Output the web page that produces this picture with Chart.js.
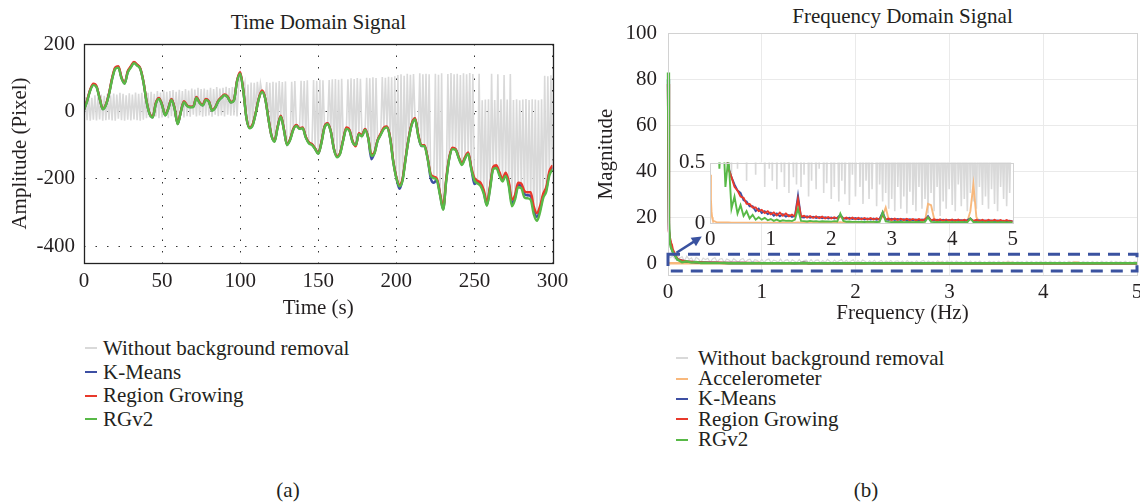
<!DOCTYPE html>
<html><head><meta charset="utf-8">
<script src="https://cdn.jsdelivr.net/npm/chart.js@4.4.1/dist/chart.umd.min.js"></script>
<style>
html,body{margin:0;padding:0;background:#fff;}
body{width:1140px;height:502px;position:relative;overflow:hidden;font-family:'Liberation Serif','Times New Roman',serif;color:#231f20;}
canvas{position:absolute;}
.ttl{position:absolute;font-size:21px;line-height:25px;white-space:nowrap;transform:translateX(-50%);}
.legend{position:absolute;font-size:21px;}
.legend div{display:flex;align-items:center;white-space:nowrap;}
.legend span.sw{display:inline-block;width:12px;height:2px;}
</style></head><body>
<div class="ttl" style="left:318.5px;top:9.5px">Time Domain Signal</div>
<div class="ttl" style="left:902.5px;top:3.5px">Frequency Domain Signal</div>
<canvas id="cA" width="580" height="330" style="left:0;top:0"></canvas>
<canvas id="cB" width="580" height="340" style="left:570px;top:0"></canvas>
<canvas id="cI" width="370" height="112" style="left:670px;top:145px"></canvas>
<div class="legend" id="legA" style="left:85px;top:336.5px"></div>
<div class="legend" id="legB" style="left:676px;top:348px"></div>
<div class="ttl" style="left:288px;top:477.5px">(a)</div>
<div class="ttl" style="left:866px;top:477.5px">(b)</div>
<script>
// ---------- Time domain data (seconds) ----------
const timeSec = [
0,2,4,6,8,10,12,14,16,18,
20,22,24,26,28,30,32,34,36,38,
40,42,44,46,48,50,52,54,56,58,
60,62,64,66,68,70,72,74,76,78,
80,82,84,86,88,90,92,94,96,98,
100,102,104,106,108,110,112,114,116,118,
120,122,124,126,128,130,132,134,136,138,
140,142,144,146,148,150,152,154,156,158,
160,162,164,166,168,170,172,174,176,178,
180,182,184,186,188,190,192,194,196,198,
200,202,204,206,208,210,212,214,216,218,
220,222,224,226,228,230,232,234,236,238,
240,242,244,246,248,250,252,254,256,258,
260,262,264,266,268,270,272,274,276,278,
280,282,284,286,288,290,292,294,296,298,
300];
const rgv2Time = [
4,30,62,78,72,38,6,18,50,95,
126,130,98,82,115,130,143,136,126,88,
30,-8,-18,22,37,18,-12,8,34,8,
-38,-2,27,16,12,13,40,25,17,34,
28,2,10,30,40,48,42,26,32,88,
112,60,-20,-50,-42,-5,38,58,38,-20,
-72,-90,-48,-16,-55,-100,-85,-55,-43,-52,
-50,-78,-95,-100,-112,-126,-95,-48,-38,-60,
-112,-136,-126,-86,-52,-58,-92,-100,-68,-74,
-55,-80,-132,-125,-88,-70,-52,-48,-80,-150,
-198,-222,-205,-140,-80,-38,-24,-72,-102,-104,
-140,-190,-198,-205,-250,-292,-205,-138,-112,-115,
-140,-159,-140,-126,-172,-205,-214,-222,-245,-280,
-232,-172,-168,-190,-208,-192,-222,-282,-262,-225,
-228,-255,-258,-262,-305,-325,-300,-258,-238,-190,
-172];
const regionGrowingTime = [
6,33,65,82,75,40,8,20,53,99,
130,134,101,84,119,134,147,139,128,90,
32,-6,-16,25,40,20,-10,10,37,10,
-36,0,30,18,14,15,43,27,19,37,
30,4,12,32,42,50,44,28,34,91,
116,63,-18,-48,-38,-3,40,62,40,-18,
-70,-88,-45,-13,-52,-98,-82,-52,-40,-50,
-48,-75,-92,-97,-110,-124,-92,-45,-35,-58,
-110,-133,-123,-83,-48,-55,-88,-104,-65,-70,
-52,-78,-128,-122,-85,-66,-48,-45,-77,-146,
-195,-218,-200,-136,-77,-34,-20,-68,-100,-100,
-137,-186,-194,-200,-244,-285,-198,-134,-108,-112,
-136,-154,-136,-122,-166,-198,-206,-212,-234,-270,
-222,-165,-160,-180,-200,-182,-208,-262,-248,-212,
-214,-236,-240,-240,-282,-302,-282,-245,-225,-178,
-160];
const kMeansTime = [
5,32,64,80,74,39,7,19,52,97,
128,132,100,83,117,132,145,138,127,89,
31,-7,-17,24,39,19,-11,9,36,9,
-37,-1,29,17,13,14,42,26,18,36,
29,3,11,31,41,49,43,27,33,90,
114,62,-19,-49,-40,-4,39,60,39,-19,
-71,-89,-46,-14,-53,-99,-83,-53,-41,-51,
-49,-76,-93,-98,-111,-125,-93,-46,-36,-59,
-111,-134,-124,-84,-50,-56,-90,-101,-66,-72,
-53,-79,-142,-123,-86,-68,-50,-46,-78,-148,
-197,-230,-202,-138,-78,-36,-22,-70,-103,-102,
-138,-198,-212,-203,-247,-290,-202,-136,-110,-113,
-138,-156,-138,-124,-169,-216,-210,-217,-240,-278,
-226,-168,-164,-185,-204,-187,-215,-272,-255,-218,
-221,-245,-249,-251,-293,-313,-291,-251,-231,-184,
-166];
const grayTimeSec = [
0,1,2,3,4,5,6,7,8,9,10,11,12,13,14,15,16,17,18,19,
20,21,22,23,24,25,26,27,28,29,30,31,32,33,34,35,36,37,38,39,
40,41,42,43,44,45,46,47,48,49,50,51,52,53,54,55,56,57,58,59,
60,61,62,63,64,65,66,67,68,69,70,71,72,73,74,75,76,77,78,79,
80,81,82,83,84,85,86,87,88,89,90,91,92,93,94,95,96,97,98,99,
100,101,102,103,104,105,106,107,108,109,110,111,112,113,114,115,116,117,118,119,
120,121,122,123,124,125,126,127,128,129,130,131,132,133,134,135,136,137,138,139,
140,141,142,143,144,145,146,147,148,149,150,151,152,153,154,155,156,157,158,159,
160,161,162,163,164,165,166,167,168,169,170,171,172,173,174,175,176,177,178,179,
180,181,182,183,184,185,186,187,188,189,190,191,192,193,194,195,196,197,198,199,
200,201,202,203,204,205,206,207,208,209,210,211,212,213,214,215,216,217,218,219,
220,221,222,223,224,225,226,227,228,229,230,231,232,233,234,235,236,237,238,239,
240,241,242,243,244,245,246,247,248,249,250,251,252,253,254,255,256,257,258,259,
260,261,262,263,264,265,266,267,268,269,270,271,272,273,274,275,276,277,278,279,
280,281,282,283,284,285,286,287,288,289,290,291,292,293,294,295,296,297,298,299,
300];
const withoutRemovalTime = [
-22,42,-26,45,-28,40,-25,48,-27,44,-24,50,-28,46,-26,52,-25,48,-27,53,
-28,50,-22,55,-26,52,-28,48,-25,54,-27,50,-24,56,-26,52,-28,55,-25,50,
-20,55,-18,58,-22,52,-15,60,-20,56,-18,62,-16,58,-20,60,-14,63,-18,58,
-15,64,-12,60,-18,66,-14,62,-16,68,-10,65,-15,70,-12,66,-16,68,-14,64,
-12,70,-16,66,-10,72,-14,68,-12,70,-15,73,-10,69,-13,72,-12,70,-15,74,
112,82,60,84,-20,80,-50,86,-42,85,-5,88,38,84,58,50,38,87,-20,85,
-72,88,-90,86,-48,90,-16,87,-55,89,-100,-93,-85,88,-55,90,-43,-48,-52,91,
-50,90,-78,92,-95,-98,-100,93,-112,91,-126,94,-95,92,-48,-43,-38,93,-60,95,
-112,96,-136,94,-126,97,-86,-69,-52,95,-58,98,-92,96,-100,99,-68,97,-74,-64,
-55,100,-80,98,-132,101,-125,99,-88,-79,-70,102,-52,100,-48,103,-80,101,-150,104,
-198,108,-222,110,-205,106,-140,112,-80,109,-38,111,-24,-48,-72,113,-102,110,-104,112,
-140,110,-190,-194,-198,112,-205,109,-250,113,-292,-250,-205,111,-138,114,-112,110,-115,112,
-140,108,-159,113,-140,110,-126,114,-172,111,-205,-210,-214,112,-222,33,-245,35,-280,36,
-232,112,-172,34,-168,110,-190,36,-208,108,-192,35,-222,111,-282,34,-262,36,-225,33,
-228,35,-255,37,-258,34,-262,36,-305,35,-325,33,-300,36,-258,106,-238,104,-190,107,
-172];
const timeTicks = {min: 0, max: 300, step: 50};
const ampTicks = {min: -450, max: 200, step: 200};

// ---------- Frequency domain data (Hz) ----------
const freq = [
0,0.01,0.02,0.03,0.04,0.05,
0.1,0.15,0.2,0.25,0.3,0.35,0.4,0.45,0.5,0.55,0.6,0.65,0.7,0.75,0.8,0.85,0.9,0.95,1,
1.05,1.1,1.15,1.2,1.25,1.3,1.35,1.4,1.45,1.5,
1.55,1.6,1.65,1.7,1.75,1.8,1.85,1.9,1.95,2,2.05,2.1,
2.15,2.2,
2.25,2.3,2.35,2.4,2.45,2.5,2.55,2.6,2.65,2.7,2.75,2.8,
2.85,2.9,
2.95,3,3.05,3.1,3.15,3.2,3.25,3.3,3.35,3.4,3.45,3.5,3.55,
3.6,3.65,
3.7,3.75,3.8,3.85,3.9,3.95,4,4.05,4.1,4.15,4.2,4.25,
4.3,4.35,
4.4,4.45,4.5,4.55,4.6,4.65,4.7,4.75,4.8,4.85,4.9,4.95,5];
const freqGray = [
0,0.025,0.05,0.075,0.1,0.125,0.15,0.175,0.2,0.225,0.25,0.275,0.3,0.325,0.35,0.375,0.4,0.425,0.45,0.475,
0.5,0.525,0.55,0.575,0.6,0.625,0.65,0.675,0.7,0.725,0.75,0.775,0.8,0.825,0.85,0.875,0.9,0.925,0.95,0.975,
1,1.025,1.05,1.075,1.1,1.125,1.15,1.175,1.2,1.225,1.25,1.275,1.3,1.325,1.35,1.375,1.4,1.425,1.45,1.475,
1.5,1.525,1.55,1.575,1.6,1.625,1.65,1.675,1.7,1.725,1.75,1.775,1.8,1.825,1.85,1.875,1.9,1.925,1.95,1.975,
2,2.025,2.05,2.075,2.1,2.125,2.15,2.175,2.2,2.225,2.25,2.275,2.3,2.325,2.35,2.375,2.4,2.425,2.45,2.475,
2.5,2.525,2.55,2.575,2.6,2.625,2.65,2.675,2.7,2.725,2.75,2.775,2.8,2.825,2.85,2.875,2.9,2.925,2.95,2.975,
3,3.025,3.05,3.075,3.1,3.125,3.15,3.175,3.2,3.225,3.25,3.275,3.3,3.325,3.35,3.375,3.4,3.425,3.45,3.475,
3.5,3.525,3.55,3.575,3.6,3.625,3.65,3.675,3.7,3.725,3.75,3.775,3.8,3.825,3.85,3.875,3.9,3.925,3.95,3.975,
4,4.025,4.05,4.075,4.1,4.125,4.15,4.175,4.2,4.225,4.25,4.275,4.3,4.325,4.35,4.375,4.4,4.425,4.45,4.475,
4.5,4.525,4.55,4.575,4.6,4.625,4.65,4.675,4.7,4.725,4.75,4.775,4.8,4.825,4.85,4.875,4.9,4.925,4.95,4.975,
5];
const withoutRemovalFreq = [
3.5,2.4,3.2,1.8,3.6,2.2,2.9,0.9,3.1,1.7,2.4,0.5,2.6,1.9,0.4,2.3,1.6,2.2,0.45,1.9,
2.5,0.6,1.8,2.1,0.35,1.9,1.4,0.55,2.0,1.2,0.4,1.7,2.1,0.5,1.5,1.8,0.3,1.6,1.3,0.45,
1.7,0.35,1.5,1.9,0.28,1.4,1.1,0.42,1.8,0.3,1.3,1.6,0.25,1.5,0.9,0.38,1.7,0.32,1.2,1.4,
0.3,1.6,0.4,1.3,1.5,0.22,1.2,0.35,1.7,0.9,0.28,1.4,0.45,1.1,1.6,0.25,1.3,0.33,1.0,1.5,
0.2,1.2,0.3,1.4,0.9,0.18,1.1,0.35,1.3,0.24,0.8,1.2,0.15,1.0,0.4,1.2,0.22,0.9,1.1,0.3,
1.0,0.16,1.2,0.35,0.8,0.2,1.1,0.28,0.9,1.2,0.14,1.0,0.32,0.8,0.18,1.1,0.25,0.9,0.12,1.0,
0.2,0.85,0.1,1.0,0.3,0.75,0.12,0.9,0.22,1.0,0.08,0.8,0.26,0.95,0.15,0.7,0.1,0.9,0.3,0.8,
0.12,0.9,0.2,0.7,0.08,1.0,0.25,0.8,0.1,0.85,0.3,0.7,0.06,0.9,0.18,0.8,0.12,0.75,0.28,0.9,
0.15,0.8,0.1,0.9,0.32,0.7,0.14,0.85,0.2,0.75,0.1,0.9,0.25,0.8,0.18,0.7,0.12,0.85,0.3,0.75,
0.15,0.8,0.22,0.7,0.12,0.9,0.28,0.75,0.16,0.85,0.1,0.8,0.3,0.7,0.2,0.85,0.14,0.75,0.25,0.8,
0.6];
const accelerometerFreq = [
0.4,0.2,0.1,0.05,0.03,0.02,
0.01,0.008,0.007,0.006,0.006,0.005,0.005,0.005,0.004,0.005,0.004,0.004,0.005,0.004,0.004,0.004,0.005,0.004,0.004,
0.004,0.005,0.004,0.004,0.005,0.004,0.004,0.005,0.006,0.004,
0.004,0.004,0.005,0.004,0.004,0.005,0.004,0.004,0.005,0.004,0.004,0.005,
0.008,0.005,
0.005,0.004,0.005,0.005,0.004,0.005,0.006,0.005,0.005,0.006,0.008,0.02,
0.06,0.13,
0.03,0.012,0.008,0.006,0.006,0.005,0.006,0.005,0.006,0.007,0.008,0.01,0.02,
0.16,0.15,
0.04,0.015,0.008,0.006,0.006,0.005,0.006,0.005,0.006,0.006,0.008,0.015,
0.1,0.32,
0.05,0.012,0.007,0.006,0.005,0.006,0.005,0.005,0.006,0.005,0.005,0.006,0.005];
const kMeansFreq = [
80,15,10,8.5,6.5,5,
1.7,1.15,0.7,0.6,0.46,0.38,0.32,0.27,0.25,0.19,0.18,0.14,0.14,0.1,0.12,0.085,0.1,0.075,0.088,
0.062,0.08,0.058,0.075,0.055,0.068,0.052,0.062,0.23,0.051,
0.048,0.057,0.045,0.054,0.043,0.052,0.041,0.05,0.04,0.048,0.039,0.046,
0.07,0.04,
0.037,0.045,0.035,0.043,0.033,0.042,0.032,0.04,0.031,0.039,0.03,0.038,
0.09,0.031,
0.029,0.037,0.028,0.035,0.027,0.034,0.026,0.033,0.025,0.032,0.024,0.031,0.025,
0.06,0.025,
0.023,0.03,0.022,0.029,0.021,0.028,0.02,0.027,0.021,0.026,0.019,0.026,
0.04,0.02,
0.019,0.025,0.018,0.024,0.017,0.023,0.016,0.023,0.017,0.022,0.016,0.021,0.015];
const regionGrowingFreq = [
78,14,11,9,8,6,
1.8,1.1,0.8,0.62,0.45,0.38,0.3,0.27,0.22,0.21,0.16,0.16,0.13,0.13,0.1,0.11,0.085,0.1,0.075,
0.09,0.065,0.088,0.062,0.08,0.058,0.072,0.056,0.2,0.054,
0.062,0.047,0.06,0.044,0.058,0.042,0.055,0.04,0.052,0.039,0.05,0.038,
0.06,0.037,
0.048,0.035,0.047,0.034,0.045,0.033,0.044,0.032,0.043,0.031,0.042,0.03,
0.07,0.03,
0.04,0.028,0.039,0.027,0.038,0.026,0.037,0.025,0.036,0.025,0.035,0.024,0.034,
0.05,0.024,
0.033,0.022,0.033,0.021,0.032,0.021,0.031,0.02,0.031,0.02,0.03,0.019,
0.035,0.019,
0.029,0.018,0.029,0.018,0.028,0.017,0.028,0.017,0.027,0.016,0.027,0.016,0.02];
const rgv2Freq = [
83,18,9,7,6,5,
1.6,0.45,0.9,0.3,0.55,0.12,0.22,0.08,0.15,0.06,0.1,0.04,0.07,0.03,0.05,0.03,0.045,0.025,0.035,
0.02,0.03,0.018,0.025,0.02,0.022,0.018,0.03,0.12,0.02,
0.018,0.015,0.02,0.016,0.018,0.014,0.017,0.015,0.016,0.014,0.018,0.015,
0.08,0.02,
0.013,0.015,0.012,0.014,0.012,0.013,0.011,0.014,0.012,0.013,0.011,0.012,
0.09,0.015,
0.012,0.01,0.012,0.011,0.013,0.01,0.012,0.011,0.01,0.012,0.011,0.01,0.012,
0.05,0.012,
0.01,0.011,0.009,0.01,0.011,0.009,0.01,0.01,0.009,0.011,0.01,0.009,
0.04,0.01,
0.01,0.009,0.01,0.008,0.01,0.009,0.01,0.008,0.009,0.01,0.008,0.009,0.008];
const freqTicks = {min: 0, max: 5, step: 1};
const magTicks = {min: -5, max: 100, step: 20};
const insetMagTicks = {min: 0, max: 0.5, step: 0.5};

// ---------- styling ----------
const GRAY = '#d9d9d9', ORANGE = '#f8b87c', BLUE = '#3d4fa3', RED = '#e8392b', GREEN = '#58b947';
const INK = '#231f20';
Chart.defaults.font.family = "'Liberation Serif','Times New Roman',serif";
Chart.defaults.font.size = 21;
Chart.defaults.color = INK;

const pts = (xs, ys) => xs.map((x, i) => ({x, y: ys[i]}));

function boxPlugin(color, width) {
  return {
    id: 'frameBox',
    afterDatasetsDraw(chart) {
      const {ctx, chartArea: a} = chart;
      ctx.save();
      ctx.strokeStyle = color; ctx.lineWidth = width; ctx.setLineDash([]);
      ctx.strokeRect(Math.round(a.left) + 0.5, Math.round(a.top) + 0.5,
        Math.round(a.right) - Math.round(a.left), Math.round(a.bottom) - Math.round(a.top));
      ctx.restore();
    }
  };
}
const whiteBg = {
  id: 'whiteBg',
  beforeDraw(chart) {
    const {ctx, chartArea: a} = chart;
    ctx.save(); ctx.fillStyle = '#fff';
    ctx.fillRect(a.left, a.top, a.right - a.left, a.bottom - a.top);
    ctx.restore();
  }
};
const zoomMarker = {
  id: 'zoomMarker',
  afterDatasetsDraw(chart) {
    const {ctx, scales: {x, y}} = chart;
    const x0 = x.getPixelForValue(0), x1 = x.getPixelForValue(5);
    const yt = y.getPixelForValue(3.9), yb = y.getPixelForValue(-3.4);
    ctx.save();
    ctx.strokeStyle = '#3a52a0'; ctx.fillStyle = '#3a52a0';
    ctx.lineWidth = 3; ctx.setLineDash([12, 8]);
    ctx.strokeRect(x0, yt, x1 - x0, yb - yt);
    ctx.setLineDash([]);
    const ax0 = x.getPixelForValue(0.09), ay0 = y.getPixelForValue(4.6);
    const ax1 = x.getPixelForValue(0.36), ay1 = y.getPixelForValue(11.6);
    const ang = Math.atan2(ay1 - ay0, ax1 - ax0);
    ctx.lineWidth = 2.5;
    ctx.beginPath(); ctx.moveTo(ax0, ay0);
    ctx.lineTo(ax1 - 6 * Math.cos(ang), ay1 - 6 * Math.sin(ang)); ctx.stroke();
    ctx.beginPath();
    ctx.moveTo(ax1, ay1);
    ctx.lineTo(ax1 - 10 * Math.cos(ang) + 5 * Math.sin(ang), ay1 - 10 * Math.sin(ang) - 5 * Math.cos(ang));
    ctx.lineTo(ax1 - 10 * Math.cos(ang) - 5 * Math.sin(ang), ay1 - 10 * Math.sin(ang) + 5 * Math.cos(ang));
    ctx.closePath(); ctx.fill();
    ctx.restore();
  }
};

const common = {
  responsive: false, animation: false, events: [],
  elements: {point: {radius: 0}, line: {tension: 0}},
  plugins: {legend: {display: false}, tooltip: {enabled: false}, title: {display: false}}
};

// ---------- (a) time domain ----------
const dsA = [
  {label: 'Without background removal', data: pts(grayTimeSec, withoutRemovalTime), borderColor: GRAY, borderWidth: 1.6, order: 4},
  {label: 'K-Means', data: pts(timeSec, kMeansTime), borderColor: BLUE, borderWidth: 2.4, order: 3, cubicInterpolationMode: 'monotone'},
  {label: 'Region Growing', data: pts(timeSec, regionGrowingTime), borderColor: RED, borderWidth: 2.4, order: 2, cubicInterpolationMode: 'monotone'},
  {label: 'RGv2', data: pts(timeSec, rgv2Time), borderColor: GREEN, borderWidth: 2.4, order: 1, cubicInterpolationMode: 'monotone'}
];
new Chart(document.getElementById('cA'), {
  type: 'line',
  data: {datasets: dsA},
  options: Object.assign({}, common, {
    layout: {padding: {top: 44, right: 27.5, left: 0, bottom: 0}},
    scales: {
      x: {type: 'linear', min: timeTicks.min, max: timeTicks.max,
        ticks: {stepSize: timeTicks.step, padding: 5.4, maxRotation: 0, color: INK},
        grid: {color: '#333', lineWidth: 1, drawTicks: false},
        border: {display: false, dash: [1.5, 10]},
        title: {display: true, text: 'Time (s)', color: INK, padding: {top: 0, bottom: 9.4}},
        afterFit: s => { s.height = 67; }},
      y: {type: 'linear', min: ampTicks.min, max: ampTicks.max,
        ticks: {stepSize: ampTicks.step, includeBounds: false, padding: 9, color: INK},
        grid: {color: '#333', lineWidth: 1, drawTicks: false},
        border: {display: false, dash: [1.5, 10]},
        title: {display: true, text: 'Amplitude (Pixel)', color: INK, padding: {top: 7.5, bottom: 0}},
        afterFit: s => { s.width = 84; }}
    }
  }),
  plugins: [boxPlugin('#222', 1.3)]
});

// ---------- (b) frequency domain ----------
function freqDatasets(grayW, colW, clip) {
  return [
    {label: 'Without background removal', data: pts(freqGray, withoutRemovalFreq), borderColor: GRAY, borderWidth: grayW, order: 5, clip},
    {label: 'Accelerometer', data: pts(freq, accelerometerFreq), borderColor: ORANGE, borderWidth: colW, order: 4, clip},
    {label: 'K-Means', data: pts(freq, kMeansFreq), borderColor: BLUE, borderWidth: colW, order: 3, clip},
    {label: 'Region Growing', data: pts(freq, regionGrowingFreq), borderColor: RED, borderWidth: colW, order: 2, clip},
    {label: 'RGv2', data: pts(freq, rgv2Freq), borderColor: GREEN, borderWidth: colW, order: 1, clip}
  ];
}
const dsB = freqDatasets(1.2, 2.4, {left: 3, right: 0, top: 0, bottom: 2});
new Chart(document.getElementById('cB'), {
  type: 'line',
  data: {datasets: dsB},
  options: Object.assign({}, common, {
    layout: {padding: {top: 33.3, right: 13, left: 0, bottom: 0}},
    scales: {
      x: {type: 'linear', min: freqTicks.min, max: freqTicks.max,
        ticks: {stepSize: freqTicks.step, padding: 4.6, maxRotation: 0, color: INK},
        grid: {color: '#eaeaea', lineWidth: 1, drawTicks: false},
        border: {display: false},
        title: {display: true, text: 'Frequency (Hz)', color: INK, padding: {top: 0, bottom: 14.4}},
        afterFit: s => { s.height = 65.2; }},
      y: {type: 'linear', min: magTicks.min, max: magTicks.max,
        ticks: {stepSize: magTicks.step, includeBounds: false, padding: 11, color: INK},
        grid: {color: '#eaeaea', lineWidth: 1, drawTicks: false},
        border: {display: false},
        title: {display: true, text: 'Magnitude', color: INK, padding: {top: 23.4, bottom: 0}},
        afterFit: s => { s.width = 98; }}
    }
  }),
  plugins: [boxPlugin('#d2d2d2', 1), zoomMarker]
});

// ---------- inset (zoom of the dashed region) ----------
new Chart(document.getElementById('cI'), {
  type: 'line',
  data: {datasets: freqDatasets(1.6, 1.9, 0)},
  options: Object.assign({}, common, {
    layout: {padding: {top: 16, right: 27.3, left: 0, bottom: 0}},
    scales: {
      x: {type: 'linear', min: freqTicks.min, max: freqTicks.max,
        ticks: {stepSize: freqTicks.step, padding: 3.1, maxRotation: 0, color: INK},
        grid: {display: false, drawTicks: false}, border: {display: false},
        afterFit: s => { s.height = 33.7; }},
      y: {type: 'linear', min: insetMagTicks.min, max: insetMagTicks.max,
        ticks: {stepSize: insetMagTicks.step, padding: 5, color: INK},
        grid: {display: false, drawTicks: false}, border: {display: false},
        afterFit: s => { s.width = 40.3; }}
    }
  }),
  plugins: [whiteBg, boxPlugin('#d2d2d2', 1)]
});

// ---------- HTML legends built from the datasets ----------
function buildLegend(id, datasets, rowH, gap) {
  const el = document.getElementById(id);
  datasets.forEach(d => {
    const row = document.createElement('div');
    row.style.height = rowH + 'px';
    const sw = document.createElement('span');
    sw.className = 'sw'; sw.style.background = d.borderColor; sw.style.marginRight = gap + 'px';
    const tx = document.createElement('span');
    tx.textContent = d.label;
    row.append(sw, tx); el.append(row);
  });
}
buildLegend('legA', dsA, 23.7, 6);
buildLegend('legB', dsB, 20.4, 10);
</script>
</body></html>
